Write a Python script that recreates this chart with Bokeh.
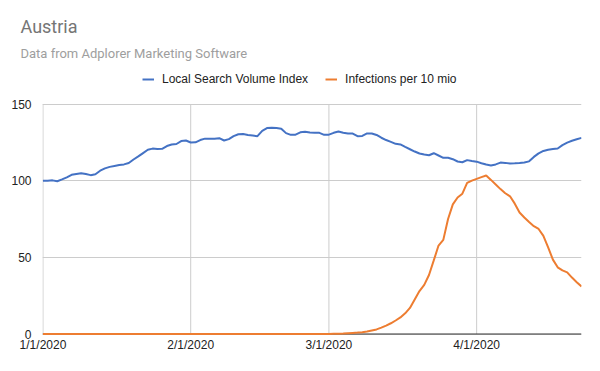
import pandas as pd
from bokeh.plotting import figure
from bokeh.models import (Legend, LegendItem, FixedTicker, Span, Range1d, Title,
                          ColumnDataSource)
from bokeh.embed import file_html
from bokeh.resources import INLINE

start_date = "2020-01-01"
tick_labels = ["1/1/2020", "2/1/2020", "3/1/2020", "4/1/2020"]
y_ticks = [0, 50, 100, 150]
title_text = "Austria"
subtitle_text = "Data from Adplorer Marketing Software"
series_names = ["Local Search Volume Index", "Infections per 10 mio"]

search_index = [
    100.0, 100.0, 100.2, 99.6, 100.8, 102.2, 103.8, 104.4, 104.9, 104.3,
    103.6, 104.2, 106.5, 108.0, 109.0, 109.6, 110.2, 110.6, 111.5, 113.8,
    115.8, 118.0, 120.2, 120.9, 120.7, 120.8, 122.6, 123.6, 123.9, 125.8,
    126.2, 124.9, 125.0, 126.5, 127.4, 127.3, 127.4, 127.7, 126.2, 127.1,
    129.0, 130.3, 130.4, 129.8, 129.5, 129.0, 132.5, 134.3, 134.5, 134.3,
    133.9, 131.0, 129.9, 130.0, 131.5, 131.9, 131.4, 131.3, 131.2, 129.9,
    130.0, 131.2, 132.1, 131.3, 130.8, 130.7, 129.0, 129.2, 130.8, 130.8,
    129.8, 128.0, 126.5, 125.3, 124.0, 123.6, 122.0, 120.5, 119.0, 117.7,
    117.0, 116.6, 117.9, 116.4, 114.9, 114.9, 114.0, 112.5, 112.0, 113.4,
    112.8, 112.4, 111.4, 110.5, 109.9, 110.6, 111.8, 111.6, 111.2, 111.3,
    111.5, 111.8, 112.6, 115.5, 117.8, 119.4, 120.2, 120.7, 121.0, 123.2,
    124.8, 126.0, 127.0, 127.9,
]

infections = [0.0] * 59 + [
    0.02, 0.05, 0.1, 0.15, 0.3, 0.5, 0.7, 0.9, 1.2, 1.6,
    2.3, 3.0, 4.2, 5.5, 7.0, 8.8, 10.8, 13.5, 17.0, 22.5,
    28.0, 32.0, 38.5, 48.0, 57.7, 61.4, 75.0, 84.5, 89.0, 91.5,
    98.5, 100.0, 101.2, 102.3, 103.4, 100.5, 97.5, 94.5, 91.8, 89.8,
    85.0, 79.2, 76.0, 73.0, 70.3, 68.5, 64.0, 56.5, 48.5, 43.5,
    41.5, 40.2, 36.8, 33.8, 31.0,
]

BLUE = "#4472c4"
ORANGE = "#ed7d31"

# layout geometry (pixels)
W, H = 598, 369
LEFT, RIGHT = 42, 17
TOP, BOTTOM = 66, 34
FRAME_W = W - LEFT - RIGHT
FRAME_H = H - TOP - BOTTOM
PX_PER_UNIT = 230 / 150.0          # 0..150 spans 230 px
ZERO_ABOVE_BOTTOM = 1.5             # value 0 sits 1.5 px above frame bottom

start = pd.Timestamp(start_date)
dates = pd.date_range(start, periods=len(search_index), freq="D")
day_index = [(d - start).days for d in dates]
tick_pos = [(pd.to_datetime(t, format="%m/%d/%Y") - start).days for t in tick_labels]

y_start = -ZERO_ABOVE_BOTTOM / PX_PER_UNIT
y_end = y_start + FRAME_H / PX_PER_UNIT

source = ColumnDataSource(dict(x=day_index, search=search_index, inf=infections))
grid_src = ColumnDataSource(dict(x=tick_pos,
                                 y0=[y_ticks[0]] * len(tick_pos),
                                 y1=[y_ticks[-1]] * len(tick_pos)))

p = figure(width=W, height=H, output_backend="svg", toolbar_location=None,
           title=None,
           frame_width=FRAME_W, frame_height=FRAME_H,
           min_border_left=LEFT, min_border_right=RIGHT, min_border_top=TOP,
           min_border_bottom=BOTTOM,
           x_range=Range1d(day_index[0] - 0.1, day_index[-1]),
           y_range=Range1d(y_start, y_end))
p.outline_line_color = None

for ax in (p.xaxis[0], p.yaxis[0]):
    ax.axis_line_color = None
    ax.major_tick_line_color = None
    ax.minor_tick_line_color = None
    ax.major_label_text_font = "Liberation Sans"
    ax.major_label_text_font_size = "12px"
    ax.major_label_text_color = "#222222"

p.xaxis.ticker = FixedTicker(ticks=tick_pos)
p.xaxis.major_label_overrides = {t: lab for t, lab in zip(tick_pos, tick_labels)}
p.xaxis.major_tick_out = 0
p.xaxis.major_tick_in = 0
p.xaxis.major_label_standoff = 2
p.yaxis.ticker = FixedTicker(ticks=y_ticks)
p.yaxis.major_label_standoff = 5

p.xgrid.visible = False
p.ygrid.ticker = FixedTicker(ticks=y_ticks)
p.ygrid.grid_line_color = "#cccccc"

# vertical month grid lines, limited to the 0..150 value band
p.segment("x", "y0", "x", "y1", source=grid_src, line_color="#cccccc",
          line_width=1, level="underlay")

p.add_layout(Span(location=0, dimension="width", line_color="#333333",
                  line_width=1, level="underlay"))

r_search = p.line("x", "search", source=source, line_color=BLUE, line_width=2)
r_inf = p.line("x", "inf", source=source, line_color=ORANGE, line_width=2)

legend = Legend(items=[LegendItem(label=series_names[0], renderers=[r_search]),
                       LegendItem(label=series_names[1], renderers=[r_inf])],
                orientation="horizontal",
                location=(142 - LEFT, H - BOTTOM - 79 - 7),
                label_text_font="Liberation Sans", label_text_font_size="12px",
                label_text_color="#222222", glyph_width=12, glyph_height=14,
                label_height=14, label_standoff=8, spacing=17, padding=0, margin=0,
                border_line_color=None, background_fill_alpha=0)
p.add_layout(legend)

p.add_layout(Title(text=subtitle_text, align="left", offset=20 - LEFT,
                   vertical_align="top",
                   text_font="Roboto", text_font_size="13px",
                   text_font_style="normal", text_color="#9e9e9e", standoff=7),
             "above")
p.add_layout(Title(text=title_text, align="left", offset=20 - LEFT,
                   vertical_align="top",
                   text_font="Roboto", text_font_size="18px",
                   text_font_style="normal", text_color="#757575", standoff=7),
             "above")

open("out.html", "w").write(file_html(p, INLINE))
